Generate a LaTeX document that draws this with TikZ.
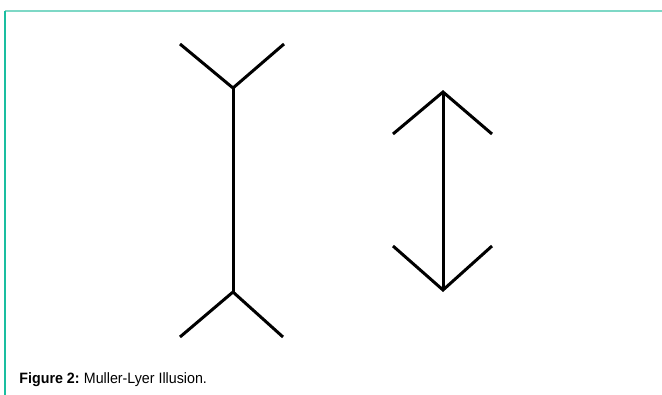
\documentclass[tikz,border=0pt]{standalone}
\usepackage{fontspec}
\setmainfont{Liberation Sans}
\usepackage{tikz}
\definecolor{frameteal}{RGB}{126,216,198}
\definecolor{frameside}{RGB}{26,190,160}

\begin{document}
\begin{tikzpicture}[x=1pt,y=-1pt,line width=3pt]
  \useasboundingbox (0,0) rectangle (662,395);
  \draw[frameteal,line width=1.5pt] (5,11) -- (662,11);
  \draw[frameside,line width=1.5pt] (5,11) -- (5,395);
  % left figure, fins out
  \coordinate (Ta) at (233,88);
  \coordinate (Tl) at (180,44);
  \coordinate (Tr) at (284,44);
  \coordinate (Ba) at (233,292);
  \coordinate (Bl) at (180,337);
  \coordinate (Br) at (283,337);
  \draw (Ta) -- (Ba);
  \draw (Tl) -- (Ta) -- (Tr);
  \draw (Bl) -- (Ba) -- (Br);
  % right figure, fins in
  \coordinate (Uu) at (443,92);
  \coordinate (Ul) at (393,134);
  \coordinate (Ur) at (492,134);
  \coordinate (Dd) at (443,290);
  \coordinate (Dl) at (393,246);
  \coordinate (Dr) at (492,246);
  \draw (Uu) -- (Dd);
  \draw[line join=miter] (Ul) -- (Uu) -- (Ur);
  \draw[line join=miter] (Dl) -- (Dd) -- (Dr);
  \node[anchor=base west,inner sep=0pt,xscale=0.95,font=\fontsize{15}{17}\selectfont] (caption) at (18,384)
    {\textbf{Figure 2:}\hspace{-1pt} Muller-Lyer Illusion.};
\end{tikzpicture}
\end{document}
